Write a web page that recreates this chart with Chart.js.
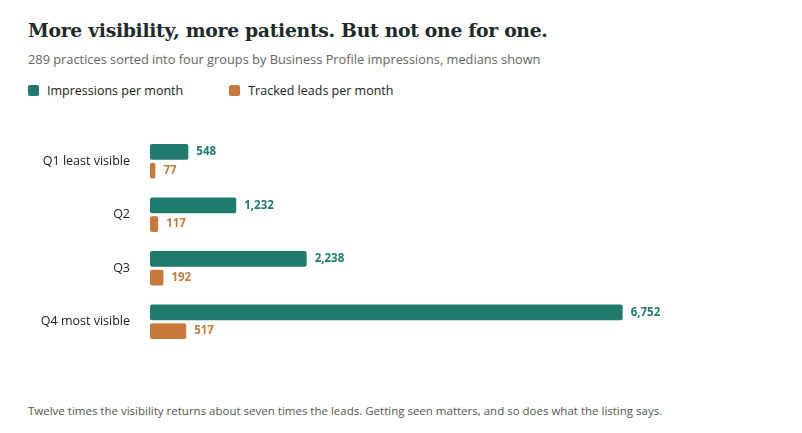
<!DOCTYPE html>
<html><head><meta charset="utf-8">
<script src="https://cdn.jsdelivr.net/npm/chart.js@4"></script>
<style>
body{margin:0;background:#fff;width:802px;height:433px;position:relative;font-family:"Open Sans","Noto Sans",sans-serif;overflow:hidden}
#t{position:absolute;left:28px;top:19px;font:bold 18.8px "DejaVu Serif",Georgia,serif;color:#1d2a2a;letter-spacing:-0.3px}
#s{position:absolute;left:28px;top:50px;font-size:12.8px;color:#666}
#lg{position:absolute;left:28px;top:82px;font-size:12.5px;color:#222;display:flex;gap:46px}
#lg span{display:inline-flex;align-items:center}
#lg i{display:inline-block;width:11px;height:11px;border-radius:2px;margin-right:8px}
#f{position:absolute;left:28px;top:403px;font-size:11.5px;color:#555}
#wrap{position:absolute;left:0;top:115px;width:780px;height:253px}
</style></head><body>
<div id="t">More visibility, more patients. But not one for one.</div>
<div id="s">289 practices sorted into four groups by Business Profile impressions, medians shown</div>
<div id="lg"><span><i style="background:#1f7b6e"></i>Impressions per month</span><span><i style="background:#c87a3c"></i>Tracked leads per month</span></div>
<div id="wrap"><canvas id="c"></canvas></div>
<div id="f">Twelve times the visibility returns about seven times the leads. Getting seen matters, and so does what the listing says.</div>
<script>
const categories=["Q1 least visible","Q2","Q3","Q4 most visible"];
const impressions=[548,1232,2238,6752];
const leads=[77,117,192,517];
const colors=["#1f7b6e","#c87a3c"];
const valueLabels={id:"vl",afterDatasetsDraw(ch){const c=ch.ctx;c.save();c.font="bold 11.5px 'Open Sans',sans-serif";c.textBaseline="middle";
ch.data.datasets.forEach((d,i)=>{ch.getDatasetMeta(i).data.forEach((b,j)=>{c.fillStyle=colors[i];c.fillText(d.data[j].toLocaleString("en-US"),b.x+8,b.y);});});c.restore();}};
new Chart(document.getElementById("c"),{type:"bar",
data:{labels:categories,datasets:[
{data:impressions,backgroundColor:colors[0],borderRadius:2,borderSkipped:false},
{data:leads,backgroundColor:colors[1],borderRadius:2,borderSkipped:false}]},
options:{indexAxis:"y",responsive:true,maintainAspectRatio:false,animation:false,
categoryPercentage:0.7,barPercentage:0.85,
layout:{padding:0},
plugins:{legend:{display:false},tooltip:{enabled:false}},
scales:{x:{min:0,max:9000,display:false},
y:{grid:{display:false},border:{display:false},afterFit:s=>{s.width=150},
ticks:{color:"#222",font:{size:12.5,family:"'Open Sans',sans-serif"},padding:12}}}},
plugins:[valueLabels]});
</script></body></html>
